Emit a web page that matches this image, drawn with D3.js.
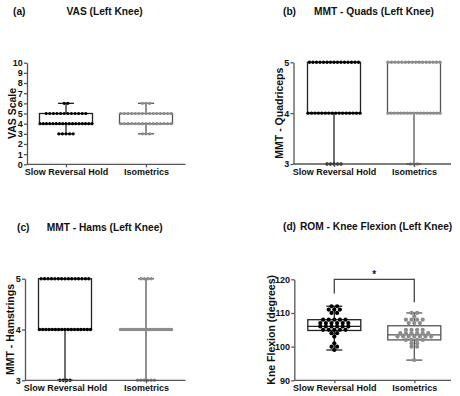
<!DOCTYPE html>
<html>
<head>
<meta charset="utf-8">
<script src="https://cdn.jsdelivr.net/npm/d3@7"></script>
<style>
body { margin: 0; background: #fff; }
text { font-family: Arial, "Liberation Sans", sans-serif; font-weight: bold; fill: #111; }
</style>
</head>
<body>
<svg id="chart" width="460" height="396"></svg>
<script>
const groups = ["Slow Reversal Hold", "Isometrics"]

// VAS (left knee): score levels and how many dots sit on each
const vasLevels = [3, 4, 5, 6]
const vasSRH = [5, 17, 12, 2]
const vasIso = [3, 15, 15, 3]
const vasBoxSRH = [3, 4, 4, 5, 6]   // min, q1, median, q3, max
const vasBoxIso = [3, 4, 4, 5, 6]
const vasTicks = [0, 1, 2, 3, 4, 5, 6, 7, 8, 9, 10]

// MMT quads
const quadsLevels = [3, 4, 5]
const quadsSRH = [5, 16, 15]
const quadsIso = [3, 17, 16]
const quadsBoxSRH = [3, 4, 4, 5, 5]
const quadsBoxIso = [3, 4, 4, 5, 5]

// MMT hams
const hamsLevels = [3, 4, 5]
const hamsSRH = [4, 17, 15]
const hamsIso = [6, 26, 4]
const hamsBoxSRH = [3, 4, 4, 5, 5]
const hamsBoxIso = [3, 4, 4, 4, 5]
const mmtTicks = [3, 4, 5]

// ROM knee flexion (degrees)
const romLevels = [96, 99, 100, 101, 102, 103, 104, 105, 106, 107, 108, 109, 110, 111, 112]
const romSRH = [0, 1, 2, 1, 0, 1, 2, 5, 6, 6, 5, 0, 2, 3, 2]
const romIso = [1, 0, 2, 2, 4, 7, 6, 4, 0, 3, 4, 1, 2, 0, 0]
const romBoxSRH = [99, 104.8, 106, 108, 112]
const romBoxIso = [96, 102, 103.5, 106.2, 110]
const romTicks = [90, 100, 110, 120]

const colors = ["#000", "#8c8c8c"]
const boxStroke = ["#222", "#555"]

const svg = d3.select("#chart")

function drawPanel(p) {
    const g = svg.append("g")

    const x = d3.scalePoint().domain(groups).range([p.x0, p.x1]).padding(0.5)
    const y = d3.scaleLinear().domain(p.domain).range([p.yb, p.yt])

    // boxes + whiskers
    p.boxes.forEach((b, i) => {
        const cx = x(groups[i])
        const hw = 26.5
        const bg = g.append("g")
            .attr("stroke", boxStroke[i])
            .attr("stroke-width", 1.3)
            .attr("fill", "none")
        bg.append("line").attr("x1", cx).attr("x2", cx).attr("y1", y(b[0])).attr("y2", y(b[1]))
        bg.append("line").attr("x1", cx).attr("x2", cx).attr("y1", y(b[3])).attr("y2", y(b[4]))
        bg.append("line").attr("x1", cx - 8).attr("x2", cx + 8).attr("y1", y(b[0])).attr("y2", y(b[0]))
        bg.append("line").attr("x1", cx - 8).attr("x2", cx + 8).attr("y1", y(b[4])).attr("y2", y(b[4]))
        bg.append("rect")
            .attr("x", cx - hw).attr("width", hw * 2)
            .attr("y", y(b[3])).attr("height", Math.max(0, y(b[1]) - y(b[3])))
        bg.append("line").attr("x1", cx - hw).attr("x2", cx + hw).attr("y1", y(b[2])).attr("y2", y(b[2]))
    })

    // dots, spread sideways per level
    p.counts.forEach((cnt, i) => {
        const cx = x(groups[i])
        const pts = []
        p.levels.forEach((v, k) => {
            const n = cnt[k]
            if (!n) return
            const step = n > 1 ? Math.min(p.step, p.spread / (n - 1)) : 0
            for (let j = 0; j < n; j++) pts.push({ x: cx + (j - (n - 1) / 2) * step, v: v })
        })
        g.append("g").selectAll("circle")
            .data(pts)
            .enter()
            .append("circle")
            .attr("cx", d => d.x)
            .attr("cy", d => y(d.v))
            .attr("r", p.r)
            .attr("fill", colors[i])
    })

    // axes
    const yAxis = g.append("g")
        .attr("transform", `translate(${p.ax},0)`)
        .call(d3.axisLeft(y).tickValues(p.ticks).tickFormat(d3.format("d"))
            .tickSize(3).tickSizeOuter(0).tickPadding(1.2))
    yAxis.selectAll("text").style("font-size", "9px")

    const xAxis = g.append("g")
        .attr("transform", `translate(0,${p.yb})`)
        .call(d3.axisBottom(x).tickSize(3).tickSizeOuter(0).tickPadding(1.5))
    xAxis.select(".domain").attr("d", `M${p.ax},0H${p.xEnd}`)
    xAxis.selectAll("text").style("font-size", "9px")

    g.selectAll(".domain, .tick line").attr("stroke", "#555").attr("stroke-width", 1.3)

    // y title
    g.append("text")
        .attr("transform", `translate(${p.ytx},${(p.yt + p.yb) / 2}) rotate(-90)`)
        .attr("text-anchor", "middle")
        .attr("dy", "0.36em")
        .style("font-size", "10.5px")
        .text(p.ytitle)

    // panel title
    g.append("text")
        .attr("x", p.tagX).attr("y", p.titleY)
        .style("font-size", "10.2px")
        .text(p.tag)
    g.append("text")
        .attr("x", p.titleX).attr("y", p.titleY)
        .style("font-size", "10.2px")
        .text(p.title)

    return { x, y, g }
}

drawPanel({
    x0: 26, x1: 186, xEnd: 185.5, ax: 27, yt: 62.7, yb: 164.3, domain: [0, 10],
    ticks: vasTicks, levels: vasLevels, counts: [vasSRH, vasIso], boxes: [vasBoxSRH, vasBoxIso],
    r: 1.6, step: 3.6, spread: 52,
    ytitle: "VAS Scale", ytx: 12,
    tag: "(a)", tagX: 13, title: "VAS (Left Knee)", titleX: 66.5, titleY: 14.5
})

drawPanel({
    x0: 294, x1: 454, xEnd: 451, ax: 293.5, yt: 62.3, yb: 164, domain: [3, 5],
    ticks: mmtTicks, levels: quadsLevels, counts: [quadsSRH, quadsIso], boxes: [quadsBoxSRH, quadsBoxIso],
    r: 1.7, step: 3.5, spread: 52,
    ytitle: "MMT - Quadriceps", ytx: 279,
    tag: "(b)", tagX: 283, title: "MMT - Quads (Left Knee)", titleX: 314, titleY: 14.5
})

drawPanel({
    x0: 24.5, x1: 186.5, xEnd: 185.5, ax: 25, yt: 278.7, yb: 380.3, domain: [3, 5],
    ticks: mmtTicks, levels: hamsLevels, counts: [hamsSRH, hamsIso], boxes: [hamsBoxSRH, hamsBoxIso],
    r: 1.7, step: 3.4, spread: 51,
    ytitle: "MMT - Hamstrings", ytx: 10,
    tag: "(c)", tagX: 17, title: "MMT - Hams (Left Knee)", titleX: 46.7, titleY: 230.5
})

const d = drawPanel({
    x0: 294.3, x1: 454.3, xEnd: 451, ax: 294.3, yt: 279.3, yb: 380.3, domain: [90, 120],
    ticks: romTicks, levels: romLevels, counts: [romSRH, romIso], boxes: [romBoxSRH, romBoxIso],
    r: 2.1, step: 5.6, spread: 50,
    ytitle: "Kne Flexion (degrees)", ytx: 271,
    tag: "(d)", tagX: 283, title: "ROM - Knee Flexion (Left Knee)", titleX: 300, titleY: 230
})

// significance bracket
const bx1 = d.x(groups[0]), bx2 = d.x(groups[1])
d.g.append("path")
    .attr("d", `M${bx1},${d.y(115.8)}V${d.y(120)}H${bx2}V${d.y(113.2)}`)
    .attr("fill", "none")
    .attr("stroke", "#444")
    .attr("stroke-width", 1.3)
d.g.append("text")
    .attr("x", (bx1 + bx2) / 2).attr("y", d.y(120) - 1)
    .attr("text-anchor", "middle")
    .style("font-size", "10px")
    .text("*")
</script>
</body>
</html>
